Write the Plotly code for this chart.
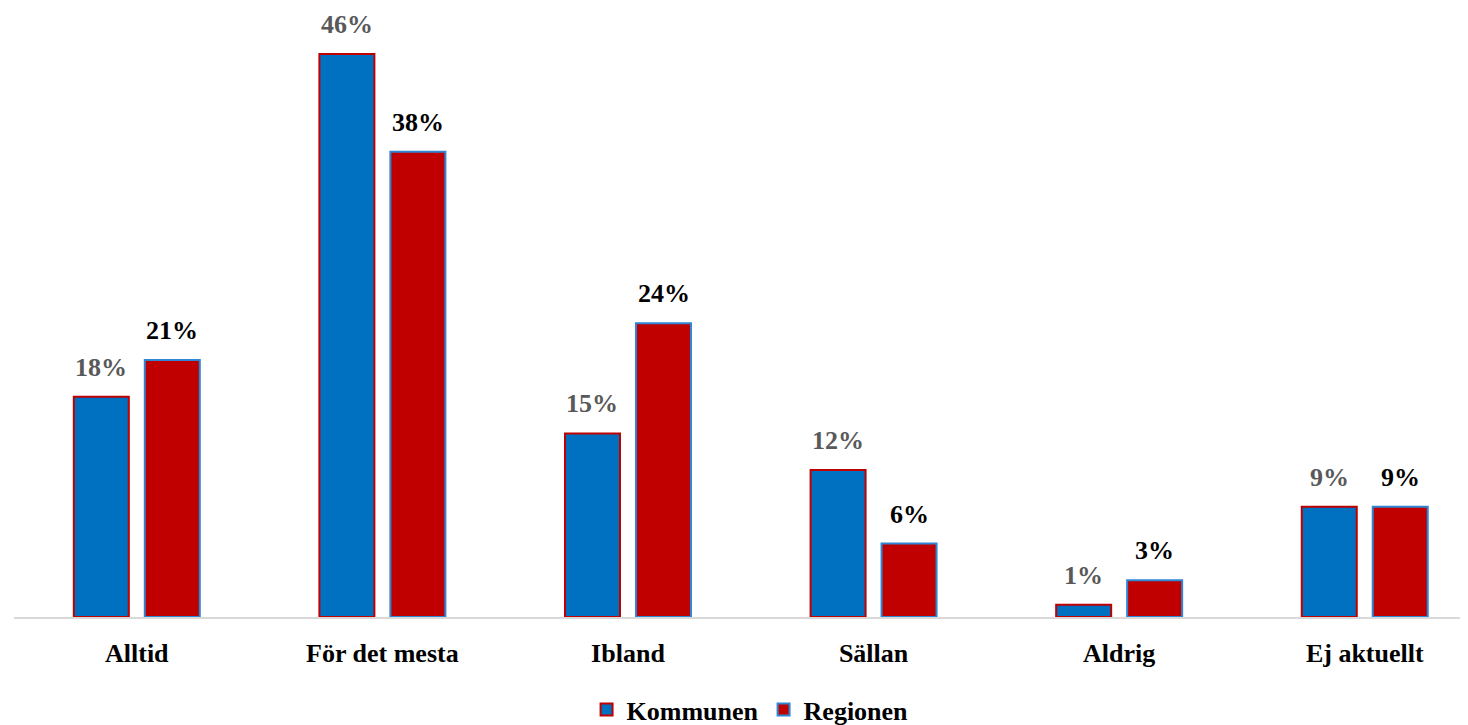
import plotly.graph_objects as go

categories = ["Alltid", "För det mesta", "Ibland", "Sällan", "Aldrig", "Ej aktuellt"]
kommunen = [18, 46, 15, 12, 1, 9]
regionen = [21, 38, 24, 6, 3, 9]

BLUE = "#0070C0"
RED = "#C00000"
FONT = "Liberation Serif"
FS = 26

fig = go.Figure()
fig.add_trace(go.Bar(
    name="Kommunen", x=categories, y=kommunen,
    marker=dict(color=BLUE, line=dict(color=RED, width=2)),
))
fig.add_trace(go.Bar(
    name="Regionen", x=categories, y=regionen,
    marker=dict(color=RED, line=dict(color="#2E86D4", width=2)),
))

annotations = []
for i, (k, r) in enumerate(zip(kommunen, regionen)):
    annotations.append(dict(x=i - 0.145, y=k, xref="x", yref="y", text=f"{k}%",
                            showarrow=False, yanchor="bottom", yshift=13,
                            font=dict(family=FONT, size=FS, color="#595959", weight="bold")))
    annotations.append(dict(x=i + 0.145, y=r, xref="x", yref="y", text=f"{r}%",
                            showarrow=False, yanchor="bottom", yshift=13,
                            font=dict(family=FONT, size=FS, color="#000000", weight="bold")))

fig.update_layout(
    width=1468, height=725,
    margin=dict(l=6, r=0, t=0, b=116, autoexpand=False),
    paper_bgcolor="white", plot_bgcolor="white",
    barmode="group", bargap=0.422, bargroupgap=0.225,
    font=dict(family=FONT, size=FS, color="#000000", weight="bold"),
    xaxis=dict(range=[-0.5, 5.453], showline=True, linecolor="#D9D9D9", linewidth=2,
               ticks="", showgrid=False, automargin=False, ticklabelstandoff=12,
               tickfont=dict(family=FONT, size=FS, color="#000000", weight="bold")),
    yaxis=dict(range=[0, 49.75], visible=False, showgrid=False, zeroline=False),
    legend=dict(orientation="h", x=0.5055, xanchor="center", xref="container",
                y=0.0, yanchor="bottom", yref="container",
                font=dict(family=FONT, size=FS, color="#000000", weight="bold"),
                itemwidth=30, tracegroupgap=0),
    annotations=annotations,
    showlegend=True,
)

fig.write_html("out.html")
